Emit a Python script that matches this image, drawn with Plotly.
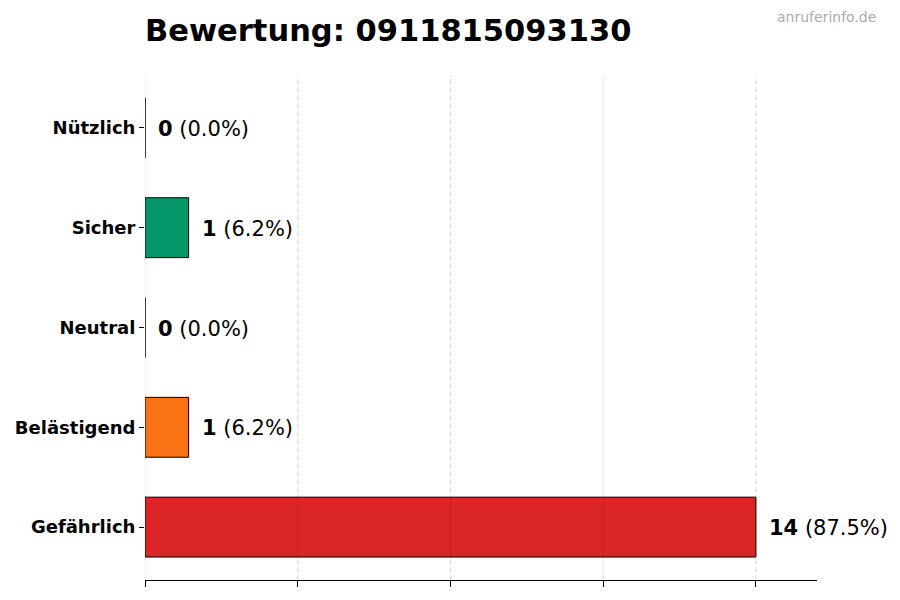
import plotly.graph_objects as go

categories = ["Gefährlich", "Belästigend", "Neutral", "Sicher", "Nützlich"]
counts = [14, 1, 0, 1, 0]
percents = [87.5, 6.2, 0.0, 6.2, 0.0]
colors = ["#dc2626", "#f97316", "#6b7280", "#059669", "#10b981"]
grid_ticks = [0, 3.5, 7, 10.5, 14]

fig = go.Figure()
fig.add_trace(go.Bar(
    x=counts, y=categories, orientation="h", width=0.6,
    marker=dict(color=colors, line=dict(color="black", width=1)),
    hoverinfo="skip",
))

for c, n, p in zip(categories, counts, percents):
    fig.add_annotation(
        x=n, y=c, xref="x", yref="y", xanchor="left", xshift=11, yshift=-1,
        text="<b>%d</b> (%.1f%%)" % (n, p), showarrow=False,
        font=dict(size=21, color="black"),
    )

# matplotlib-style grid drawn over the bars
for t in grid_ticks:
    fig.add_shape(type="line", xref="x", yref="paper", x0=t, x1=t, y0=0, y1=1,
                  line=dict(color="rgba(0,0,0,0.16)", width=1, dash="5px,3px"),
                  layer="above")

fig.add_annotation(x=1, y=1, xref="paper", yref="paper", xanchor="right", yanchor="middle",
                   text="anruferinfo.de", showarrow=False,
                   font=dict(size=14, color="#aaaaaa"), yshift=58, xshift=61)

fig.update_layout(
    width=900, height=600,
    margin=dict(l=145, r=83, t=75, b=20),
    paper_bgcolor="white", plot_bgcolor="white",
    font=dict(family="DejaVu Sans", color="black"),
    title=dict(text="<b>Bewertung: 0911815093130</b>", x=145 / 900, xanchor="left",
               y=0.95, yanchor="middle", font=dict(size=30.5)),
    showlegend=False,
    xaxis=dict(range=[0, 15.4], tickvals=grid_ticks, showticklabels=False,
               showgrid=False, zeroline=False, showline=True, linecolor="black",
               ticks="outside", ticklen=6, tickcolor="black"),
    yaxis=dict(range=[-0.53, 4.53], showgrid=False, zeroline=False, showline=False,
               ticks="outside", ticklen=5, tickcolor="black",
               tickfont=dict(size=18, weight="bold")),
)

fig.write_html("out.html", config={"displayModeBar": False},
               post_script="document.body.style.margin='0';")
